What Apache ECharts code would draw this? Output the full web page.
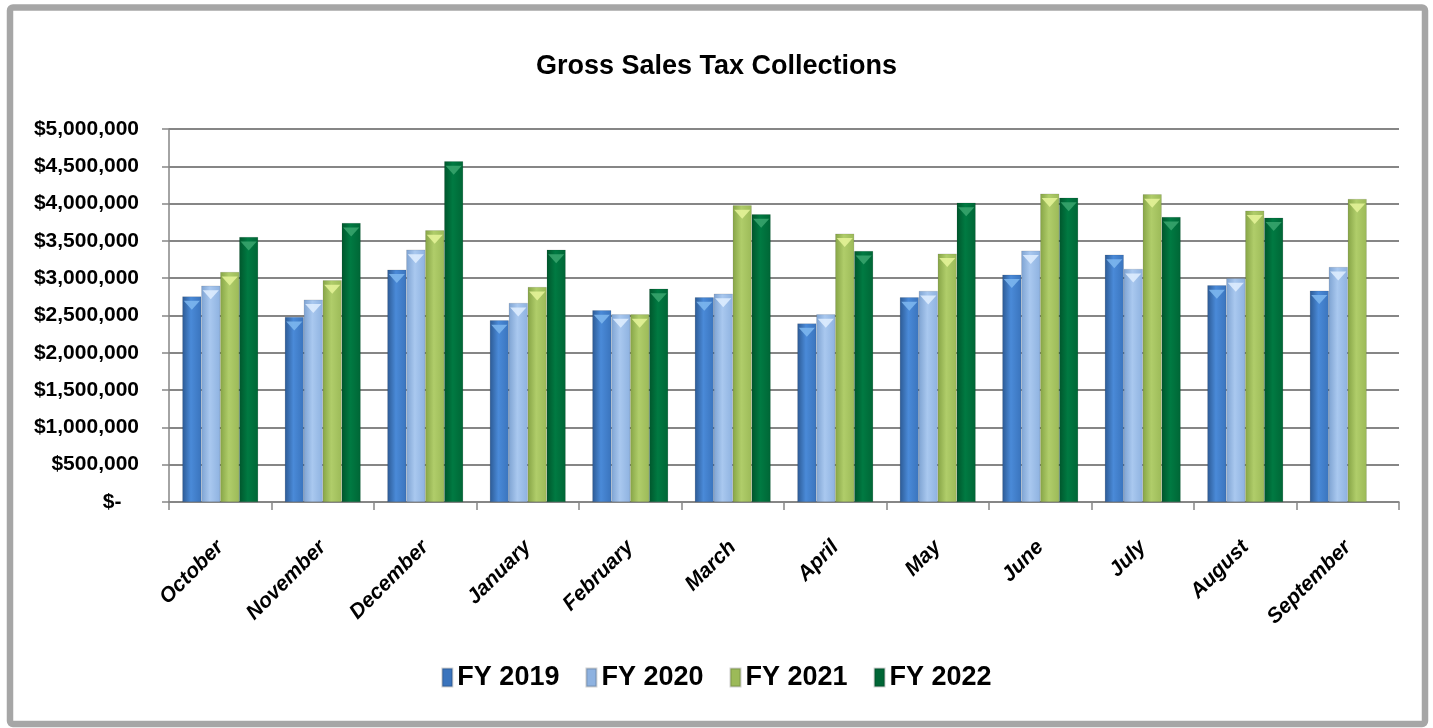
<!DOCTYPE html>
<html>
<head>
<meta charset="utf-8">
<script src="https://cdn.jsdelivr.net/npm/echarts@6/dist/echarts.min.js"></script>
<style>
html,body{margin:0;padding:0;background:#fff;}
#chart{width:1433px;height:728px;}
</style>
</head>
<body>
<div id="chart"></div>
<script>
const title = 'Gross Sales Tax Collections';
const months = ['October','November','December','January','February','March','April','May','June','July','August','September'];
const seriesNames = ['FY 2019','FY 2020','FY 2021','FY 2022'];
const fy2019 = [2757000, 2480000, 3115000, 2436000, 2570000, 2744000, 2395000, 2744000, 3048000, 3316000, 2905000, 2834000];
const fy2020 = [2900000, 2713000, 3383000, 2668000, 2516000, 2793000, 2516000, 2829000, 3370000, 3124000, 2999000, 3150000];
const fy2021 = [3083000, 2972000, 3642000, 2882000, 2516000, 3977000, 3598000, 3330000, 4134000, 4125000, 3906000, 4062000];
const fy2022 = [3552000, 3740000, 4567000, 3383000, 2860000, 3857000, 3365000, 4013000, 4080000, 3820000, 3812000, null];
const yTicks = [0, 500000, 1000000, 1500000, 2000000, 2500000, 3000000, 3500000, 4000000, 4500000, 5000000];

const FONT = '"Liberation Sans", Arial, sans-serif';
const palettes = [
  ['#2c5a94', '#4a8ad8', '#3a74bd'],
  ['#7ea3d2', '#a9c8ef', '#8eb2e0'],
  ['#86a446', '#b0cd6a', '#9cba58'],
  ['#00562c', '#007a42', '#006636']
];
const tipColors = ['#7fb8f0', '#e0eeff', '#e6f59a', '#3aa66e'];
const legendColors = ['#3a74bd', '#8eb2e0', '#9cba58', '#006636'];

function grad(p) {
  return new echarts.graphic.LinearGradient(0, 0, 1, 0, [
    {offset: 0, color: p[0]},
    {offset: 0.45, color: p[1]},
    {offset: 1, color: p[2]}
  ]);
}

const allData = [fy2019, fy2020, fy2021, fy2022];
const series = [];
allData.forEach((d, i) => {
  series.push({
    name: seriesNames[i],
    type: 'bar',
    data: d,
    barGap: '0%',
    barCategoryGap: '26%',
    itemStyle: {color: grad(palettes[i]), borderColor: 'rgba(0,0,0,0.18)', borderWidth: 0.6},
    emphasis: {disabled: true}
  });
});
allData.forEach((d, i) => {
  series.push({
    name: seriesNames[i],
    type: 'pictorialBar',
    data: d,
    barGap: '0%',
    barCategoryGap: '26%',
    symbol: 'triangle',
    symbolRotate: 180,
    symbolPosition: 'end',
    symbolSize: ['85%', 9],
    symbolOffset: [0, '50%'],
    itemStyle: {color: tipColors[i], opacity: 0.85},
    z: 3,
    silent: true,
    emphasis: {disabled: true}
  });
});

const chart = echarts.init(document.getElementById('chart'), null, {renderer: 'canvas'});
chart.setOption({
  animation: false,
  backgroundColor: '#ffffff',
  color: legendColors,
  title: {
    text: title,
    left: 'center',
    top: 48,
    textStyle: {fontFamily: FONT, fontWeight: 'bold', fontSize: 27, color: '#000'}
  },
  legend: {
    data: seriesNames.map((n, i) => ({name: n, itemStyle: {color: legendColors[i]}})),
    bottom: 32,
    left: 'center',
    itemWidth: 10,
    itemHeight: 18,
    itemGap: 26,
    icon: 'rect',
    textStyle: {fontFamily: FONT, fontWeight: 'bold', fontSize: 27, color: '#000'},
    selectedMode: false
  },
  grid: {left: 169, right: 34, top: 129, bottom: 226, containLabel: false},
  xAxis: {
    type: 'category',
    data: months,
    boundaryGap: true,
    axisLine: {lineStyle: {color: '#868686', width: 1.5}},
    axisTick: {show: true, length: 8, lineStyle: {color: '#868686', width: 1.5}},
    axisLabel: {
      rotate: 45,
      margin: 42,
      interval: 0,
      fontFamily: FONT,
      fontWeight: 'bold',
      fontStyle: 'italic',
      fontSize: 21,
      color: '#000'
    }
  },
  yAxis: {
    type: 'value',
    min: 0,
    max: 5000000,
    interval: 500000,
    axisLine: {show: true, lineStyle: {color: '#868686', width: 1.5}},
    axisTick: {show: true, length: 7, lineStyle: {color: '#868686', width: 1.5}},
    splitLine: {lineStyle: {color: '#868686', width: 1.8}},
    axisLabel: {
      margin: 30,
      fontFamily: FONT,
      fontWeight: 'bold',
      fontSize: 21,
      color: '#000',
      formatter: function (v) {
        if (v === 0) return '$-   ';
        return '$' + v.toLocaleString('en-US');
      }
    }
  },
  graphic: [{
    type: 'rect',
    shape: {x: 10, y: 7.5, width: 1415, height: 716.5, r: 3},
    style: {fill: 'none', stroke: '#a6a6a6', lineWidth: 6.5},
    silent: true,
    z: 100
  }],
  series: series
});
</script>
</body>
</html>
